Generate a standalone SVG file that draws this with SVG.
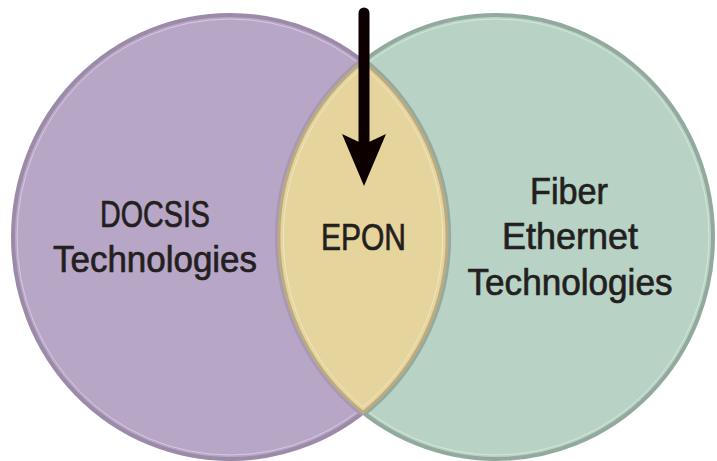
<svg xmlns="http://www.w3.org/2000/svg" width="717" height="461" viewBox="0 0 717 461">
<style>
.lbl{font-family:"Liberation Sans","Open Sans",Arial,sans-serif;font-size:37px;fill:#231f20;stroke:#231f20;stroke-width:0.7;text-anchor:middle}
.hl{fill:none;stroke:#ffffff;stroke-opacity:0.4;stroke-width:1}
</style>
<rect width="717" height="461" fill="#ffffff"/>
<g id="docsis">
  <ellipse cx="230" cy="237" rx="217" ry="222" fill="#b8a6c6" stroke="#9b8ba9" stroke-width="4"/>
  <ellipse class="hl" cx="230" cy="237" rx="213" ry="218"/>
  <text class="lbl" x="155" y="227" textLength="110" lengthAdjust="spacingAndGlyphs">DOCSIS</text>
  <text class="lbl" x="155" y="272" textLength="204" lengthAdjust="spacingAndGlyphs">Technologies</text>
</g>
<g id="fiber">
  <ellipse cx="496" cy="237" rx="217" ry="222" fill="#b8d3c5" stroke="#92aa9d" stroke-width="4"/>
  <ellipse class="hl" cx="496" cy="237" rx="213" ry="218"/>
  <text class="lbl" x="569" y="204" textLength="78" lengthAdjust="spacingAndGlyphs">Fiber</text>
  <text class="lbl" x="570" y="249" textLength="136" lengthAdjust="spacingAndGlyphs">Ethernet</text>
  <text class="lbl" x="570" y="295" textLength="205" lengthAdjust="spacingAndGlyphs">Technologies</text>
</g>
<g id="epon">
  <path d="M363,61.5 A217,222 0 0 0 363,412.5" fill="none" stroke="#a898b8" stroke-width="8"/>
  <path d="M363,412.5 A217,222 0 0 0 363,61.5" fill="none" stroke="#93aa9e" stroke-width="8"/>
  <path d="M363,61.5 A217,222 0 0 0 363,412.5 A217,222 0 0 0 363,61.5 Z" fill="#e6d49d" stroke="#bcab80" stroke-width="3"/>
  <path class="hl" d="M363,67 A213,218 0 0 0 363,407 A213,218 0 0 0 363,67 Z"/>
  <text class="lbl" x="363.5" y="250" textLength="85" lengthAdjust="spacingAndGlyphs">EPON</text>
</g>
<g id="connectors">
  <line x1="364" y1="13" x2="364" y2="145" stroke="#0d0000" stroke-width="11" stroke-linecap="round"/>
  <path d="M342,134 L364,186 L386,134 L369,142 L359,142 Z" fill="#0d0000"/>
</g>
</svg>
